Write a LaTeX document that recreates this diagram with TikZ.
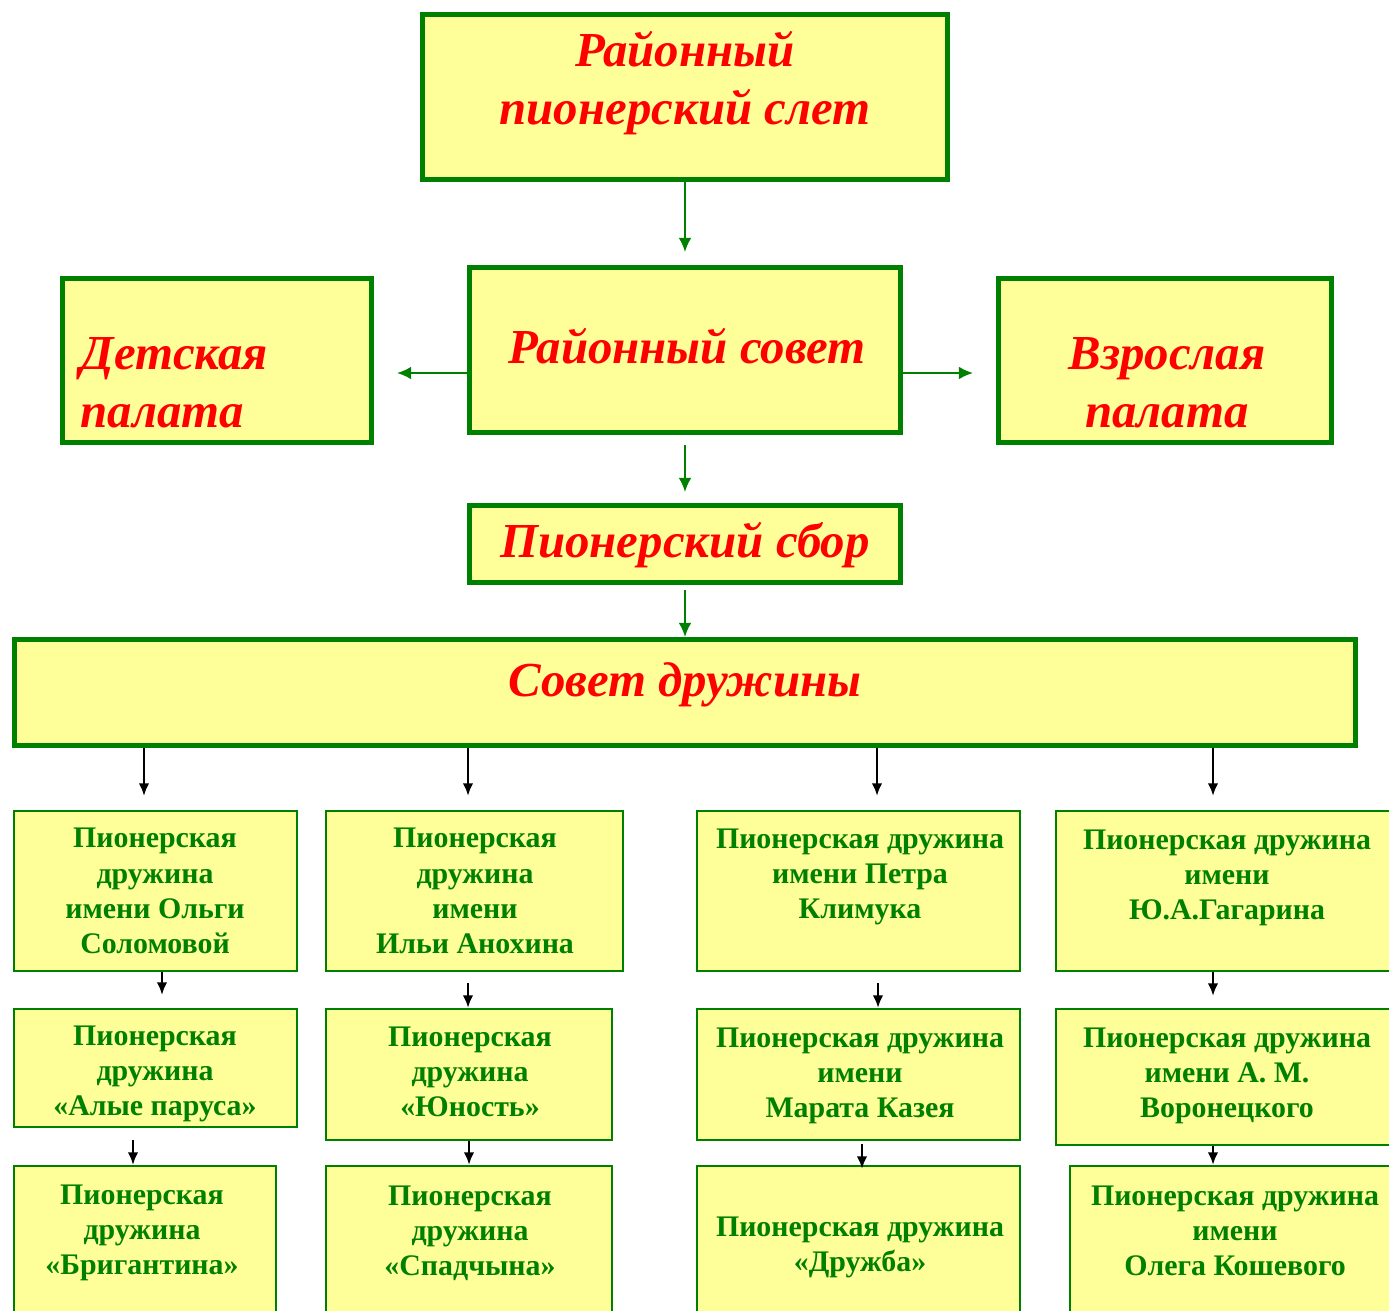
\documentclass[tikz,border=0pt]{standalone}
\usepackage{fontspec}
\setmainfont{Liberation Serif}
\usetikzlibrary{arrows.meta}
\definecolor{jaune}{HTML}{FFFF99}
\definecolor{vert}{HTML}{008000}

\begin{document}
\begin{tikzpicture}
\tikzset{cadre/.style={draw=vert, fill=jaune, line width=1.4pt, inner sep=0pt},
petitcadre/.style={draw=vert, fill=jaune, line width=0.6pt, inner sep=0pt},
titre/.style={text=red, font=\fontsize{13.9}{16.5}\selectfont\bfseries\itshape, align=center, inner sep=0pt},
texte/.style={text=vert, font=\fontsize{8.5}{10}\selectfont\bfseries, align=center, inner sep=0pt},
fleche/.style={draw=vert, line width=0.6pt, -{Latex[length=4pt, width=3.6pt]}},
flechenoire/.style={draw=black, line width=0.7pt, -{Latex[length=3.6pt, width=3pt]}}}
\useasboundingbox (0, 0) rectangle (13.89, -13.10);
\clip (0, 0) rectangle (13.89, -13.10);
\node[cadre, minimum width=5.25cm, minimum height=1.65cm] (slet) at (6.85, -0.97) {};
\node[cadre, minimum width=4.31cm, minimum height=1.65cm] (sovet) at (6.85, -3.50) {};
\node[cadre, minimum width=3.09cm, minimum height=1.64cm] (det) at (2.17, -3.605) {};
\node[cadre, minimum width=3.33cm, minimum height=1.64cm] (vzr) at (11.65, -3.605) {};
\node[cadre, minimum width=4.31cm, minimum height=0.77cm] (sbor) at (6.85, -5.44) {};
\node[cadre, minimum width=13.41cm, minimum height=1.06cm] (druz) at (6.85, -6.925) {};
\node[titre] (slet-t) at (6.85, -0.83) {Районный\\пионерский слет};
\node[titre] (sovet-t) at (6.87, -3.46) {Районный совет};
\node[titre, align=left, anchor=west] (det-t) at (0.80, -3.83) {Детская\\ палата};
\node[titre] (vzr-t) at (11.67, -3.83) {Взрослая\\палата};
\node[titre] (sbor-t) at (6.85, -5.45) {Пионерский сбор};
\node[titre] (druz-t) at (6.85, -6.85) {Совет дружины};
\node[petitcadre, minimum width=2.83cm, minimum height=1.60cm] (A1) at (1.555, -8.91) {};
\node[petitcadre, minimum width=2.97cm, minimum height=1.60cm] (B1) at (4.745, -8.91) {};
\node[petitcadre, minimum width=3.23cm, minimum height=1.60cm] (C1) at (8.585, -8.91) {};
\node[petitcadre, minimum width=3.43cm, minimum height=1.60cm] (D1) at (12.275, -8.91) {};
\node[petitcadre, minimum width=2.83cm, minimum height=1.18cm] (A2) at (1.555, -10.68) {};
\node[petitcadre, minimum width=2.86cm, minimum height=1.31cm] (B2) at (4.69, -10.745) {};
\node[petitcadre, minimum width=3.23cm, minimum height=1.31cm] (C2) at (8.585, -10.745) {};
\node[petitcadre, minimum width=3.43cm, minimum height=1.36cm] (D2) at (12.275, -10.77) {};
\node[petitcadre, minimum width=2.62cm, minimum height=1.63cm] (A3) at (1.45, -12.475) {};
\node[petitcadre, minimum width=2.86cm, minimum height=1.63cm] (B3) at (4.69, -12.475) {};
\node[petitcadre, minimum width=3.23cm, minimum height=1.63cm] (C3) at (8.585, -12.475) {};
\node[petitcadre, minimum width=3.29cm, minimum height=1.63cm] (D3) at (12.345, -12.475) {};
\node[texte] (A1-t) at (1.55, -8.91) {Пионерская\\дружина\\имени Ольги\\Соломовой};
\node[texte] (B1-t) at (4.75, -8.91) {Пионерская\\дружина\\имени\\Ильи Анохина};
\node[texte] (C1-t) at (8.60, -8.77) {Пионерская дружина\\имени Петра\\Климука};
\node[texte] (D1-t) at (12.27, -8.78) {Пионерская дружина\\имени\\Ю.А.Гагарина};
\node[texte] (A2-t) at (1.55, -10.74) {Пионерская\\дружина\\«Алые паруса»};
\node[texte] (B2-t) at (4.70, -10.72) {Пионерская\\дружина\\«Юность»};
\node[texte] (C2-t) at (8.60, -10.76) {Пионерская дружина\\имени\\Марата Казея};
\node[texte] (D2-t) at (12.27, -10.76) {Пионерская дружина\\имени А. М.\\Воронецкого};
\node[texte] (A3-t) at (1.42, -12.33) {Пионерская\\дружина\\«Бригантина»};
\node[texte] (B3-t) at (4.70, -12.33) {Пионерская\\дружина\\«Спадчына»};
\node[texte] (C3-t) at (8.60, -12.47) {Пионерская дружина\\«Дружба»};
\node[texte] (D3-t) at (12.35, -12.31) {Пионерская дружина\\имени\\Олега Кошевого};
\draw[fleche, shorten >=0.13cm] (slet) -- (sovet);
\draw[fleche, shorten >=0.23cm] ([yshift=-0.23cm]sovet.west) -- ([yshift=-0.23cm]sovet.west -| det.east);
\draw[fleche, shorten >=0.23cm] ([yshift=-0.23cm]sovet.east) -- ([yshift=-0.23cm]sovet.east -| vzr.west);
\draw[fleche, shorten <=0.10cm, shorten >=0.11cm] (sovet) -- (sbor);
\draw[fleche, shorten <=0.05cm] (sbor) -- (druz);
\draw[flechenoire, shorten >=0.14cm] ([xshift=-1.15mm]A1.north |- druz.south) -- ([xshift=-1.15mm]A1.north);
\draw[flechenoire, shorten >=0.14cm] ([xshift=-0.65mm]B1.north |- druz.south) -- ([xshift=-0.65mm]B1.north);
\draw[flechenoire, shorten >=0.14cm] ([xshift=1.85mm]C1.north |- druz.south) -- ([xshift=1.85mm]C1.north);
\draw[flechenoire, shorten >=0.14cm] ([xshift=-1.45mm]D1.north |- druz.south) -- ([xshift=-1.45mm]D1.north);
\draw[flechenoire, shorten >=0.13cm] ([xshift=0.65mm]A1.south) -- ([xshift=0.65mm]A1.south |- A2.north);
\draw[flechenoire, shorten <=0.11cm] ([xshift=-0.65mm]B1.south) -- ([xshift=-0.65mm]B1.south |- B2.north);
\draw[flechenoire, shorten <=0.11cm] ([xshift=1.95mm]C1.south) -- ([xshift=1.95mm]C1.south |- C2.north);
\draw[flechenoire, shorten >=0.12cm] ([xshift=-1.45mm]D1.south) -- ([xshift=-1.45mm]D1.south |- D2.north);
\draw[flechenoire, shorten <=0.12cm] ([xshift=-2.25mm]A2.south) -- ([xshift=-2.25mm]A2.south |- A3.north);
\draw[flechenoire] (B2.south) -- (B2.south |- B3.north);
\draw[flechenoire, shorten <=0.03cm, shorten >=-0.04cm] ([xshift=0.35mm]C2.south) -- ([xshift=0.35mm]C2.south |- C3.north);
\draw[flechenoire] ([xshift=-1.45mm]D2.south) -- ([xshift=-1.45mm]D2.south |- D3.north);
\end{tikzpicture}
\end{document}
